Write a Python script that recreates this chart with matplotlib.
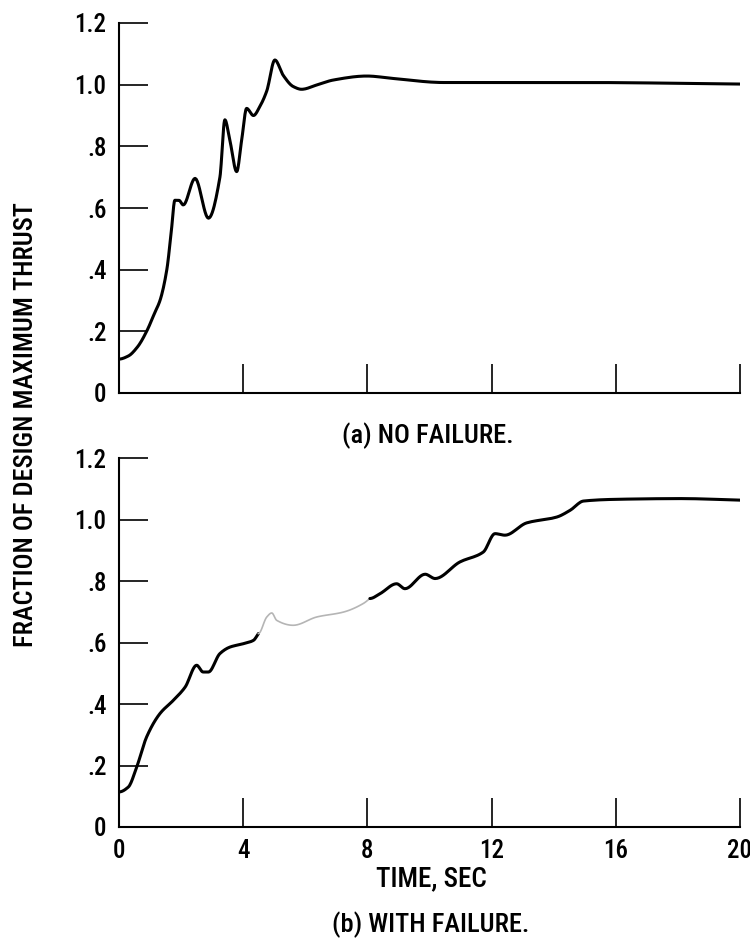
import matplotlib
matplotlib.use("Agg")
import numpy as np
import matplotlib.pyplot as plt

plt.rcParams['font.family'] = ['Roboto Condensed', 'DejaVu Sans']
plt.rcParams['font.weight'] = 500

# (a) no failure
time_a = [0.0, 0.3, 0.6, 0.89, 1.15, 1.32, 1.54, 1.68, 1.80, 1.93, 2.07, 2.45, 2.88, 3.25, 3.41, 3.57,
          3.79, 3.95, 4.11, 4.33, 4.54, 4.76, 5.02, 5.29, 5.61, 5.88, 6.37, 6.90, 7.98,
          8.84, 10.45, 14.95, 20.0]
thrust_a = [0.11, 0.12, 0.15, 0.20, 0.26, 0.30, 0.40, 0.52, 0.625, 0.625, 0.61, 0.696, 0.567, 0.70, 0.886, 0.82,
            0.718, 0.82, 0.923, 0.90, 0.93, 0.98, 1.08, 1.03, 0.994, 0.985, 0.999, 1.015, 1.028,
            1.02, 1.007, 1.007, 1.002]

# (b) with failure
time_b = [0.0, 0.3, 0.57, 0.89, 1.32, 1.75, 2.13, 2.50, 2.71, 2.88, 3.25, 3.57, 4.0, 4.33, 4.49,
          4.76, 4.92, 5.08, 5.61, 6.37, 7.23, 7.87, 8.08, 8.41, 8.94, 9.21, 9.86, 10.18,
          10.98, 11.73, 12.11, 12.43, 13.13, 14.1, 14.53, 14.96, 16.2, 18.1, 20.0]
thrust_b = [0.114, 0.13, 0.195, 0.293, 0.369, 0.412, 0.455, 0.526, 0.504, 0.504, 0.564, 0.585, 0.596,
            0.607, 0.629, 0.683, 0.696, 0.672, 0.656, 0.683, 0.699, 0.727, 0.743, 0.759, 0.791,
            0.775, 0.822, 0.808, 0.862, 0.894, 0.954, 0.949, 0.989, 1.008, 1.03, 1.06, 1.066,
            1.068, 1.063]

xticks = [0, 4, 8, 12, 16, 20]
xticklabels = ['0', '4', '8', '12', '16', '20']
yticks = [0, 0.2, 0.4, 0.6, 0.8, 1.0, 1.2]
yticklabels = ['0', '.2', '.4', '.6', '.8', '1.0', '1.2']
panel_titles = ['(a) NO FAILURE.', '(b) WITH FAILURE.']
xlabel = 'TIME, SEC'
ylabel = 'FRACTION OF DESIGN MAXIMUM THRUST'

W, H = 750, 943
fig = plt.figure(figsize=(W / 100, H / 100), dpi=100)

def px_axes(l, t, r, b):
    return fig.add_axes([l / W, 1 - b / H, (r - l) / W, (b - t) / H])

ax_a = px_axes(119, 23, 740, 393)
ax_b = px_axes(119, 458, 740, 827)

def smooth_plot(ax, x, y, **kw):
    x = np.asarray(x, float); y = np.asarray(y, float)
    h = np.diff(x); d = np.diff(y) / h
    m = np.zeros_like(y)
    for i in range(1, len(y) - 1):
        if d[i - 1] * d[i] > 0:
            w1 = 2 * h[i] + h[i - 1]; w2 = h[i] + 2 * h[i - 1]
            m[i] = (w1 + w2) / (w1 / d[i - 1] + w2 / d[i])
    m[0] = 0.0
    m[-1] = d[-1]
    xs, ys = [], []
    t = np.linspace(0, 1, 12, endpoint=False)
    h00 = 2 * t**3 - 3 * t**2 + 1; h10 = t**3 - 2 * t**2 + t
    h01 = -2 * t**3 + 3 * t**2; h11 = t**3 - t**2
    for i in range(len(x) - 1):
        xs.extend(x[i] + t * h[i])
        ys.extend(h00 * y[i] + h10 * h[i] * m[i] + h01 * y[i + 1] + h11 * h[i] * m[i + 1])
    xs.append(x[-1]); ys.append(y[-1])
    return ax.plot(xs, ys, **kw)

smooth_plot(ax_a, time_a, thrust_a, color='black', lw=2.2, solid_capstyle='round')
# curve (b): faint middle portion as in the scanned original
i0, i1 = 14, 22
smooth_plot(ax_b, time_b[:i0 + 1], thrust_b[:i0 + 1], color='black', lw=2.2, solid_capstyle='round')
smooth_plot(ax_b, time_b[i0:i1 + 1], thrust_b[i0:i1 + 1], color='#b5b5b5', lw=1.2)
smooth_plot(ax_b, time_b[i1:], thrust_b[i1:], color='black', lw=2.2, solid_capstyle='round')

for ax in (ax_a, ax_b):
    ax.set_xlim(0, 20)
    ax.set_ylim(0, 1.2)
    ax.spines['top'].set_visible(False)
    ax.spines['right'].set_visible(False)
    for s in ('left', 'bottom'):
        ax.spines[s].set_linewidth(1.5)
    ax.set_facecolor('none')
    ax.set_xticks(xticks)
    ax.set_yticks(yticks)
    ax.set_yticklabels(yticklabels)
    ax.tick_params(axis='both', direction='in', length=21, width=1.2, labelsize=18, color='black')
    ax.tick_params(axis='y', pad=9)
    ax.tick_params(axis='x', pad=9)
    ax.xaxis.get_major_ticks()[0].tick1line.set_visible(False)

ax_a.set_xticklabels([])
ax_b.set_xticklabels(xticklabels)

fig.text(428 / W, 1 - 436 / H, panel_titles[0], ha='center', va='center', fontsize=19)
fig.text(431 / W, 1 - 879 / H, xlabel, ha='center', va='center', fontsize=19.5)
fig.text(431 / W, 1 - 925 / H, panel_titles[1], ha='center', va='center', fontsize=19)
fig.text(26 / W, 1 - 425 / H, ylabel, ha='center', va='center', rotation=90, fontsize=19)

fig.savefig('out.png', dpi=100, facecolor='white')
